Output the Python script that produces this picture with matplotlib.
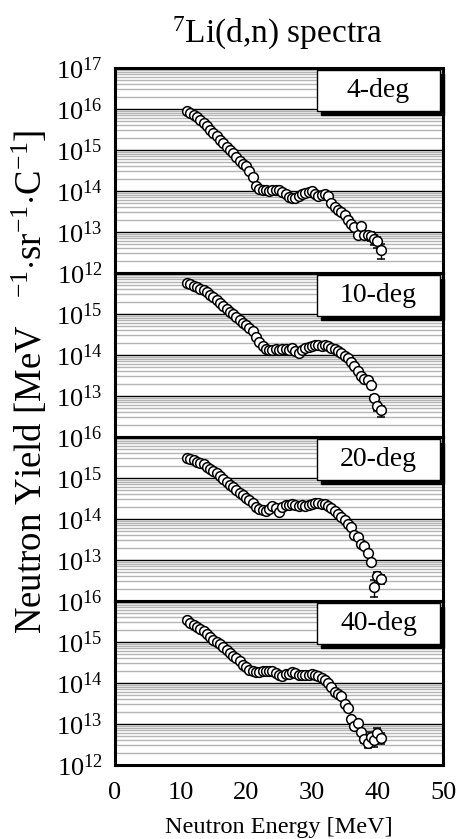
import numpy as np
import matplotlib
matplotlib.use('Agg')
import matplotlib.pyplot as plt
from matplotlib import ticker
from matplotlib.patches import Rectangle

plt.rcParams['font.family'] = ['Liberation Serif', 'DejaVu Serif']
plt.rcParams['mathtext.fontset'] = 'custom'
plt.rcParams['mathtext.rm'] = 'Liberation Serif'
plt.rcParams['mathtext.it'] = 'Liberation Serif:italic'
plt.rcParams['mathtext.bf'] = 'Liberation Serif:bold'

# neutron energy [MeV]
energy = [11.0, 11.5, 12.0, 12.5, 13.0, 13.5, 14.0, 14.5, 15.0, 15.5,
          16.0, 16.5, 17.0, 17.5, 18.0, 18.5, 19.0, 19.5, 20.0, 20.5,
          21.0, 21.5, 22.0, 22.5, 23.0, 23.5, 24.0, 24.5, 25.0, 25.5,
          26.0, 26.5, 27.0, 27.5, 28.0, 28.5, 29.0, 29.5, 30.0, 30.5,
          31.0, 31.5, 32.0, 32.5, 33.0, 33.5, 34.0, 34.5, 35.0, 35.5,
          36.0, 36.5, 37.0, 37.5, 38.0, 38.5, 39.0, 39.5, 40.0, 40.5]

# log10 of yield [MeV^-1 sr^-1 C^-1]
log_yield_4deg = [15.94, 15.90, 15.86, 15.80, 15.73, 15.66, 15.58, 15.50, 15.42, 15.33,
                  15.25, 15.16, 15.08, 15.00, 14.92, 14.83, 14.74, 14.66, 14.60, 14.48,
                  14.35, 14.12, 14.06, 14.03, 14.02, 14.01, 14.03, 14.03, 14.02, 13.98,
                  13.92, 13.85, 13.83, 13.84, 13.88, 13.93, 13.95, 13.97, 13.99, 13.92,
                  13.87, 13.90, 13.92, 13.88, 13.70, 13.60, 13.53, 13.48, 13.41, 13.30,
                  13.19, 13.11, 12.92, 13.14, 12.92, 12.92, 12.90, 12.82, 12.77, 12.57]
log_yield_10deg = [15.75, 15.72, 15.69, 15.66, 15.62, 15.58, 15.53, 15.47, 15.41, 15.34,
                   15.27, 15.20, 15.13, 15.06, 14.99, 14.93, 14.86, 14.79, 14.72, 14.65,
                   14.58, 14.45, 14.32, 14.22, 14.15, 14.12, 14.13, 14.14, 14.13, 14.14,
                   14.15, 14.13, 14.16, 14.10, 14.06, 14.12, 14.16, 14.20, 14.22, 14.24,
                   14.24, 14.23, 14.24, 14.22, 14.18, 14.14, 14.10, 14.05, 13.98, 13.92,
                   13.82, 13.73, 13.62, 13.50, 13.42, 13.38, 13.28, 12.96, 12.75, 12.65]
log_yield_20deg = [15.50, 15.46, 15.43, 15.40, 15.37, 15.33, 15.28, 15.23, 15.18, 15.12,
                   15.04, 14.97, 14.90, 14.84, 14.78, 14.71, 14.64, 14.58, 14.52, 14.46,
                   14.38, 14.30, 14.24, 14.21, 14.20, 14.24, 14.32, 14.28, 14.18, 14.30,
                   14.34, 14.33, 14.37, 14.33, 14.32, 14.33, 14.32, 14.35, 14.37, 14.38,
                   14.38, 14.37, 14.36, 14.32, 14.26, 14.19, 14.12, 14.06, 13.98, 13.89,
                   13.80, 13.62, 13.57, 13.38, 13.35, 13.18, 12.94, 12.35, 12.60, 12.53]
log_yield_40deg = [15.54, 15.46, 15.41, 15.36, 15.31, 15.26, 15.20, 15.13, 15.06, 15.00,
                   14.95, 14.88, 14.80, 14.73, 14.65, 14.60, 14.53, 14.45, 14.38, 14.32,
                   14.29, 14.28, 14.28, 14.29, 14.30, 14.30, 14.29, 14.24, 14.20, 14.16,
                   14.22, 14.23, 14.27, 14.24, 14.20, 14.20, 14.20, 14.20, 14.21, 14.19,
                   14.16, 14.12, 14.07, 14.00, 13.90, 13.77, 13.74, 13.68, 13.48, 13.40,
                   13.13, 12.95, 13.02, 12.80, 12.64, 12.54, 12.68, 12.60, 12.78, 12.67]

# relative errors of the last points of each spectrum
tail_err_4deg = [0.10, 0.15, 0.20, 0.20, 0.25, 0.25, 0.30, 0.40]
tail_err_10deg = [0.15, 0.25, 0.30]
tail_err_20deg = [0.45, 0.30, 0.25]
tail_err_40deg = [0.20, 0.25, 0.30, 0.30, 0.30, 0.30]

angles = ['4-deg', '10-deg', '20-deg', '40-deg']
series = [log_yield_4deg, log_yield_10deg, log_yield_20deg, log_yield_40deg]
tail_errs = [tail_err_4deg, tail_err_10deg, tail_err_20deg, tail_err_40deg]
top_decade = [17, 16, 16, 16]
shown_labels = [[12, 13, 14, 15, 16, 17], [13, 14, 15], [13, 14, 15, 16], [12, 13, 14, 15, 16]]

W, H = 458, 839
fig = plt.figure(figsize=(W / 100, H / 100), dpi=100)
left, right, top, bottom = 115 / W, 443 / W, 1 - 68 / H, 1 - 765 / H
gs = fig.add_gridspec(4, 1, height_ratios=[5, 4, 4, 4], hspace=0,
                      left=left, right=right, top=top, bottom=bottom)

total_px = 765 - 68
for i in range(4):
    ax = fig.add_subplot(gs[i])
    ax.set_yscale('log')
    ax.set_xlim(0, 50)
    ax.set_ylim(1e12, 10.0 ** top_decade[i])

    decades = list(range(12, top_decade[i] + 1))
    ax.yaxis.set_major_locator(ticker.FixedLocator([10.0 ** d for d in decades]))
    ax.yaxis.set_major_formatter(ticker.FixedFormatter(
        [r'$\mathregular{10^{%d}}$' % d if d in shown_labels[i] else '' for d in decades]))
    ax.yaxis.set_minor_locator(ticker.LogLocator(base=10, subs=np.arange(2, 10), numticks=20))
    ax.yaxis.set_minor_formatter(ticker.NullFormatter())
    ax.tick_params(axis='y', which='both', length=0, labelsize=19, pad=9)

    ax.xaxis.set_major_locator(ticker.MultipleLocator(10))
    ax.tick_params(axis='x', length=0, labelsize=19, pad=12)
    if i < 3:
        ax.tick_params(axis='x', labelbottom=False)

    ax.grid(True, which='minor', axis='y', color='#b4b4b4', linewidth=1.0)
    ax.grid(True, which='major', axis='y', color='black', linewidth=1.0)
    ax.set_axisbelow(True)
    for s in ax.spines.values():
        s.set_linewidth(2.2)

    y = 10.0 ** np.array(series[i])
    frac = np.zeros(len(y))
    frac[len(y) - len(tail_errs[i]):] = tail_errs[i]
    ax.errorbar(energy, y, yerr=y * frac, fmt='o', ms=7, mfc='white', mec='black',
                mew=1.1, ecolor='black', elinewidth=1.0, capsize=3, zorder=3)

    # label box with drop shadow
    ph = total_px * (5 if i == 0 else 4) / 17
    bx, bw = (317 - 115) / 328, 123 / 328
    bh = 41 / ph
    by = 1 - 2 / ph - bh
    ax.add_patch(Rectangle((bx + 4 / 328, by - 4 / ph), bw, bh, transform=ax.transAxes,
                           facecolor='black', edgecolor='black', zorder=5, clip_on=False))
    ax.add_patch(Rectangle((bx, by), bw, bh, transform=ax.transAxes,
                           facecolor='white', edgecolor='black', linewidth=1.0, zorder=6))
    ax.text(bx + bw / 2, by + bh / 2, angles[i], transform=ax.transAxes,
            ha='center', va='center', fontsize=20, zorder=7)

fig.text(277 / W, 1 - 33 / H, r'$\mathregular{^{7}}$Li(d,n) spectra', ha='center', va='center', fontsize=24)
fig.text(30 / W, 1 - 382 / H,
         r'Neutron Yield [MeV   $\mathregular{^{-1}}$$\cdot$sr$\mathregular{^{-1}}$$\cdot$C$\mathregular{^{-1}}$]',
         rotation=90, ha='center', va='center', fontsize=26.5)
fig.text(279 / W, 1 - 827 / H, 'Neutron Energy [MeV]', ha='center', va='center', fontsize=17.5)

fig.savefig('out.png', dpi=100)
